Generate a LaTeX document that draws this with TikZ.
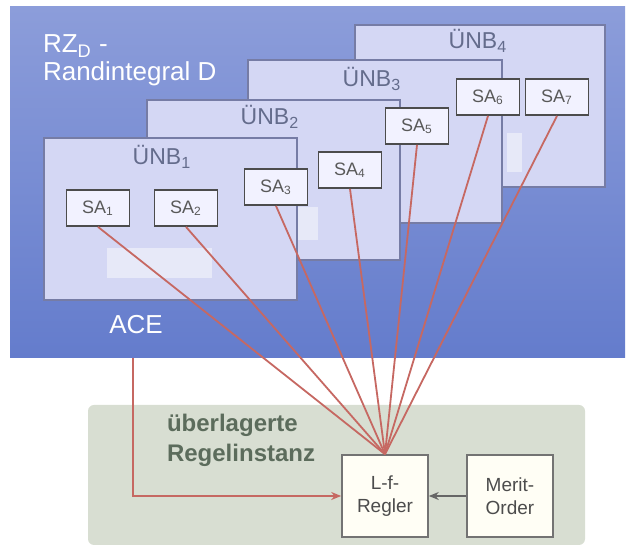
\documentclass[tikz,border=0pt]{standalone}
\usepackage{fontspec}
\setmainfont{Liberation Sans}
\usetikzlibrary{arrows.meta}

\definecolor{rzblue}{RGB}{100,124,204}
\definecolor{rzblueup}{RGB}{140,157,218}
\definecolor{unbfill}{RGB}{212,215,244}
\definecolor{unbline}{RGB}{118,124,165}
\definecolor{unbtext}{RGB}{100,108,140}
\definecolor{sigred}{RGB}{198,104,98}
\definecolor{instfill}{RGB}{216,222,210}
\definecolor{insttext}{RGB}{92,108,92}

\begin{document}
\begin{tikzpicture}[x=0.5pt, y=-0.5pt,
            > = {Stealth[length=5pt,width=4pt]},
     unb/.style = {fill=unbfill, draw=unbline, line width=0.8pt},
unblabel/.style = {text=unbtext, font=\fontsize{11.5}{13}\selectfont},
   sabox/.style = {draw=black!70, fill=white!95!blue, line width=0.9pt,
                   minimum width=31.5pt, minimum height=18pt, inner sep=0pt,
                   text=black!65, font=\fontsize{9}{10}\selectfont},
  signal/.style = {draw=sigred, line width=0.9pt},
 ctrlbox/.style = {draw=black!55, fill=white!96!yellow, line width=0.8pt,
                   minimum width=43pt, minimum height=41pt, inner sep=1pt,
                   align=center, text=black!70, font=\fontsize{9.5}{11.5}\selectfont},
   onblue/.style = {text=white, font=\fontsize{13}{14}\selectfont, align=left}
                        ]
\useasboundingbox (0,0) rectangle (628,550);
% control area
    \shade[top color=rzblueup, bottom color=rzblue] (10,7) rectangle (625,358);
    \node[onblue, anchor=north west] (rz) at (36,28) {RZ\textsubscript{D} -\\Randintegral D};
    \node[onblue] (ace) at (136,325) {ACE};
    \coordinate (acefoot) at (133,358);
% TSO areas, back to front
    \draw[unb] (355,25) rectangle (605,187);
    \node[unblabel] (unb4) at (478,41) {ÜNB\textsubscript{4}};
    \fill[white, opacity=0.45] (507,133) rectangle (522,172);
    \draw[unb] (248,60) rectangle (502,223);
    \node[unblabel] (unb3) at (372,79) {ÜNB\textsubscript{3}};
    \draw[unb] (147,100) rectangle (400,260);
    \node[unblabel] (unb2) at (270,117) {ÜNB\textsubscript{2}};
    \fill[white, opacity=0.45] (298,207) rectangle (318,240);
    \draw[unb] (44,138) rectangle (297,300);
    \node[unblabel] (unb1) at (162,157) {ÜNB\textsubscript{1}};
    \fill[white, opacity=0.45] (107,248) rectangle (212,278);
% superimposed control
    \fill[instfill, rounded corners=3pt] (88,405) rectangle (585,545);
    \node[text=insttext, font=\bfseries\fontsize{12}{15}\selectfont, align=left, anchor=west]
        (inst) at (160,440) {überlagerte\\Regelinstanz};
    \node[ctrlbox] (regler) at (385,496) {L-f-\\Regler};
    \node[ctrlbox] (merit)  at (510,496) {Merit-\\Order};
% signal lines
    \foreach \name/\pos/\txt in {sa1/{(98,208)}/1, sa2/{(186,208)}/2, sa3/{(276,187)}/3,
                                 sa4/{(350,170)}/4, sa5/{(417,126)}/5, sa6/{(488,97)}/6,
                                 sa7/{(557,97)}/7}
    {
        \node[sabox] (\name) at \pos {SA\textsubscript{\txt}};
        \draw[signal] (\name.south) -- (regler.north);
    }
    \draw[signal, ->] (acefoot) |- (regler.west);
    \draw[->, draw=black!60, line width=0.8pt] (merit.west) -- (regler.east);
\end{tikzpicture}
\end{document}
